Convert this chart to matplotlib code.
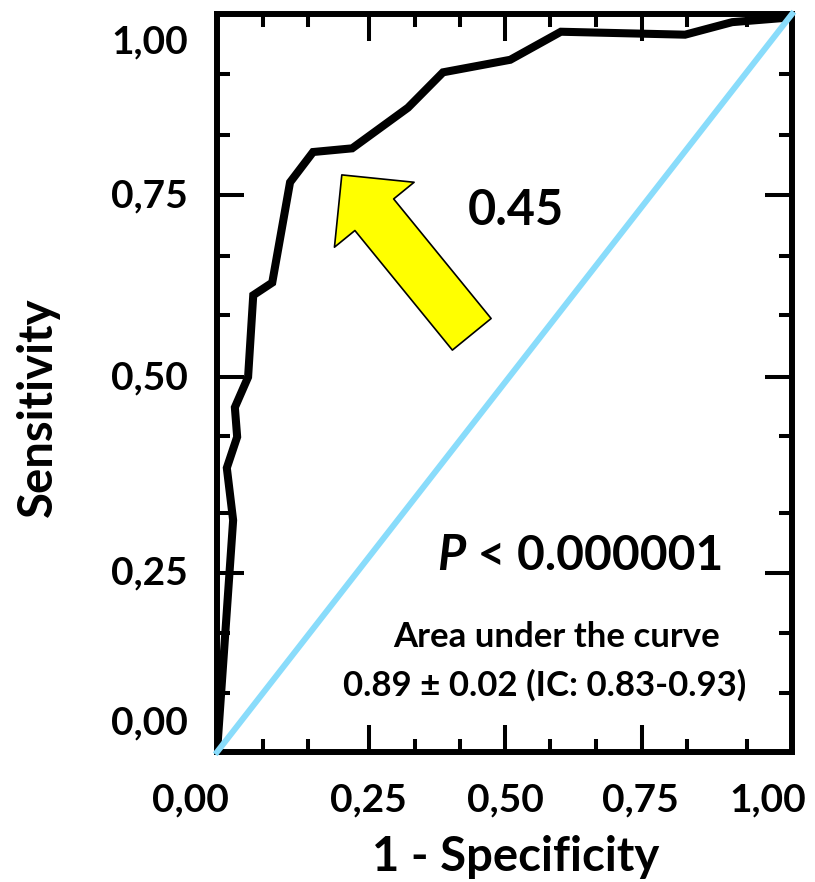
import matplotlib.pyplot as plt
from matplotlib.patches import FancyArrowPatch

# ROC curve (1 - specificity, sensitivity)
fpr = [0.0, 0.028, 0.017, 0.035, 0.031, 0.054, 0.063, 0.096, 0.127, 0.167,
       0.235, 0.332, 0.393, 0.510, 0.598, 0.814, 0.896, 0.991, 1.0]
tpr = [0.0, 0.314, 0.385, 0.427, 0.467, 0.508, 0.619, 0.636, 0.772, 0.813,
       0.818, 0.873, 0.921, 0.938, 0.976, 0.972, 0.989, 0.995, 1.0]

# reference line
diag = [0.0, 1.0]

tick_labels = ['0,00', '0,25', '0,50', '0,75', '1,00']

# tick marks and label places along each axis (axis fraction)
x_major = [0.264, 0.501, 0.739]
x_minor = [0.080, 0.158, 0.344, 0.423, 0.579, 0.659, 0.817, 0.922]
x_lab = [-0.047, 0.263, 0.501, 0.736, 0.958]
y_major = [0.243, 0.508, 0.755]
y_minor = [0.080, 0.161, 0.324, 0.428, 0.592, 0.672, 0.836, 0.919]
y_lab = [0.043, 0.247, 0.511, 0.757, 0.966]

plt.rcParams['font.family'] = ['Lato', 'DejaVu Sans']
plt.rcParams['font.weight'] = 'bold'

fig = plt.figure(figsize=(8.15, 8.82), dpi=100)
rect = [0.2663, 0.1474, 0.7055, 0.8367]

# tick labels live on a frameless axes, a little wider to the left
ext = 0.08
lab = fig.add_axes([rect[0] - ext * rect[2], rect[1], rect[2] * (1 + ext), rect[3]],
                   frameon=False)
lab.set_xlim(-ext, 1)
lab.set_ylim(0, 1)
lab.set_xticks(x_lab, tick_labels)
lab.set_yticks(y_lab, tick_labels)
lab.tick_params(length=0, labelsize=28)
lab.tick_params(axis='x', pad=22)
lab.tick_params(axis='y', pad=21 - ext * rect[2] * 815 * 0.72)

ax = fig.add_axes(rect)
ax.set_xlim(0, 1)
ax.set_ylim(0, 1)
ax.patch.set_alpha(0)

ax.plot(fpr, tpr, color='black', lw=5.8, solid_joinstyle='miter', zorder=3)
ax.plot(diag, diag, color='#89dcfb', lw=4.3, zorder=4, clip_on=False)

for s in ax.spines.values():
    s.set_linewidth(4.3)

ax.set_xticks(x_major)
ax.set_xticks(x_minor, minor=True)
ax.set_yticks(y_major)
ax.set_yticks(y_minor, minor=True)
ax.tick_params(which='both', direction='in', top=True, right=True,
               labelbottom=False, labelleft=False, width=2.9)
ax.tick_params(which='major', length=19.5)
ax.tick_params(which='minor', length=9.5)

ax.set_xlabel('1 - Specificity', fontsize=34, fontweight='bold')
ax.set_ylabel('Sensitivity', fontsize=34, fontweight='bold')
ax.xaxis.set_label_coords(0.52, -0.113)
ax.yaxis.set_label_coords(-0.273, 0.467)

# cut-off arrow
arrow = FancyArrowPatch((0.443, 0.566), (0.217, 0.782), mutation_scale=1,
                        arrowstyle='simple,head_length=37,head_width=74,tail_width=36',
                        facecolor='#ffff00', edgecolor='black', lw=1.2,
                        shrinkA=0, shrinkB=0, zorder=5)
ax.add_patch(arrow)
ax.text(0.52, 0.734, '0.45', fontsize=35, fontweight='bold',
        ha='center', va='center')

p = ax.text(0.383, 0.266, 'P', fontsize=35, fontweight='bold', style='italic',
            ha='left', va='center')
ax.annotate(' < 0.000001', xy=(1, 0), xycoords=p, fontsize=34.5,
            fontweight='bold', ha='left', va='bottom')

ax.text(0.59, 0.156, 'Area under the curve', fontsize=25, fontweight='bold',
        ha='center', va='center')
ax.text(0.57, 0.091, '0.89 \u00b1 0.02 (IC: 0.83-0.93)', fontsize=25,
        fontweight='bold', ha='center', va='center')

fig.savefig('out.png', dpi=100)
